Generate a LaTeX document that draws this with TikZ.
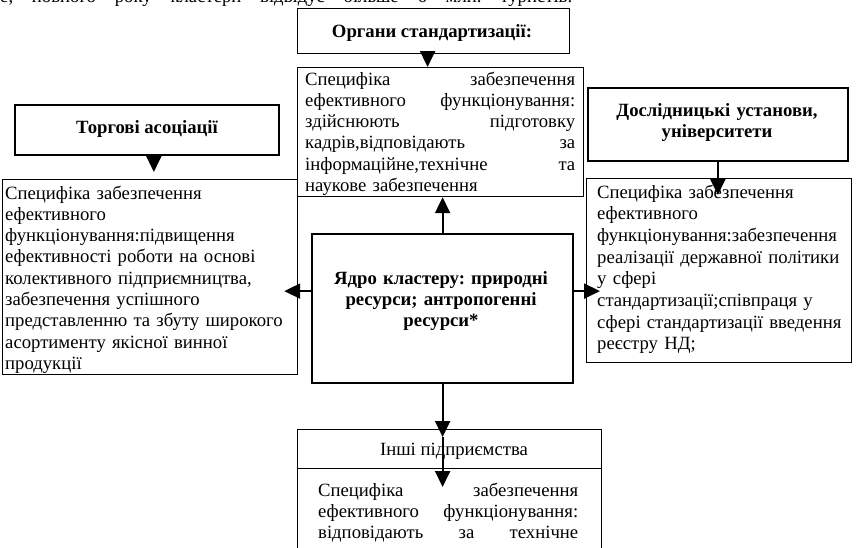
\documentclass[tikz,border=0pt]{standalone}
\usepackage{fontspec}
\setmainfont{Liberation Serif}
\usetikzlibrary{arrows.meta,calc}
\frenchspacing
\begin{document}
\begin{tikzpicture}[x=1pt,y=-1pt,
  frame/.style={draw, line width=1.2pt, inner sep=0pt, anchor=north west},
  hframe/.style={frame, line width=1.7pt},
  cframe/.style={frame, line width=2.2pt},
  body/.style={inner sep=0pt, anchor=base west, align=left,
    font=\fontsize{18.7}{21.3}\selectfont},
  head/.style={inner sep=0pt, anchor=base, align=center,
    font=\fontsize{18.7}{21.3}\selectfont\bfseries},
  arr/.style={line width=2pt, -{Triangle[length=16pt,width=15pt]}}
]
\clip (0,0) rectangle (859,547);
\fill[white] (0,0) rectangle (859,547);

% running text above the scheme
\node[inner sep=0pt, anchor=base west, font=\fontsize{18.7}{21.3}\selectfont] (run) at (0,2)
  {\makebox[572pt][s]{е, повного року кластери відвідує більше 6 млн. туристів.}};

% frames
\node[frame, minimum width=272, minimum height=45] (org) at (297,8) {};
\node[frame, minimum width=286, minimum height=129] (info) at (297,67) {};
\node[hframe, minimum width=264, minimum height=50] (torg) at (14,104) {};
\node[frame, minimum width=295, minimum height=195] (left) at (2,179) {};
\node[hframe, minimum width=260, minimum height=73] (dosl) at (587,87) {};
\node[frame, minimum width=265, minimum height=184] (right) at (586,178) {};
\node[cframe, minimum width=261, minimum height=149] (core) at (311,233) {};
\node[frame, minimum width=304, minimum height=39] (inshi) at (297,429) {};
\node[frame, minimum width=304, minimum height=100] (lower) at (297,468) {};

% labels
\node[head] (orgT) at (432,37) {Органи стандартизації:};
\node[head] (torgT) at (147,133) {Торгові асоціації};
\node[head, text width=250] (doslT) at (717,116) {Дослідницькі установи,\\університети};
\node[head, text width=250] (coreT) at (441,284) {Ядро кластеру: природні\\ресурси; антропогенні\\ресурси*};
\node[body, anchor=base] (inshiT) at (454,455) {Інші підприємства};

\node[body, text width=270] (infoT) at (305,85) {%
Специфіка\hfill забезпечення\\
ефективного\hfill функціонування:\\
здійснюють\hfill підготовку\\
кадрів,відповідають\hfill за\\
інформаційне,технічне\hfill та\\
наукове забезпечення};

\node[body, text width=300] (leftT) at (5,199) {%
Специфіка забезпечення\\
ефективного\\
функціонування:підвищення\\
ефективності роботи на основі\\
колективного підприємництва,\\
забезпечення успішного\\
представленню та збуту широкого\\
асортименту якісної винної\\
продукції};

\node[body, text width=270, font=\fontsize{18.7}{21.7}\selectfont] (rightT) at (597,198) {%
Специфіка забезпечення\\
ефективного\\
функціонування:забезпечення\\
реалізації державної політики\\
у сфері\\
стандартизації;співпраця у\\
сфері стандартизації введення\\
реєстру НД;};

\node[body, text width=260] (lowerT) at (318,496) {%
Специфіка\hfill забезпечення\\
ефективного\hfill функціонування:\\
відповідають\hfill за\hfill технічне};

% connectors
\draw[arr] ([xshift=-6pt]org.south) -- ($(org.south |- info.north)+(-6,0)$);
\draw[arr] (core.north) -- (core.north |- info.south);
\draw[arr] ([xshift=7pt]torg.south) -- ($(torg.south |- left.north)+(7,-7)$);
\draw[arr] (dosl.south) -- ($(dosl.south |- right.north)+(0,17)$);
\draw[arr] ($(core.west)+(0,-17.5)$) -- ($(core.west -| left.east)+(-14,-17.5)$);
\draw[arr] ($(core.east)+(0,-17.5)$) -- ($(core.east -| right.west)+(14,-17.5)$);
\coordinate (midtip) at ($(core.south |- inshi.north)+(0,8)$);
\draw[arr] (core.south) -- (midtip);
\draw[arr] (midtip) -- ($(core.south |- lower.north)+(0,19)$);
\end{tikzpicture}
\end{document}
